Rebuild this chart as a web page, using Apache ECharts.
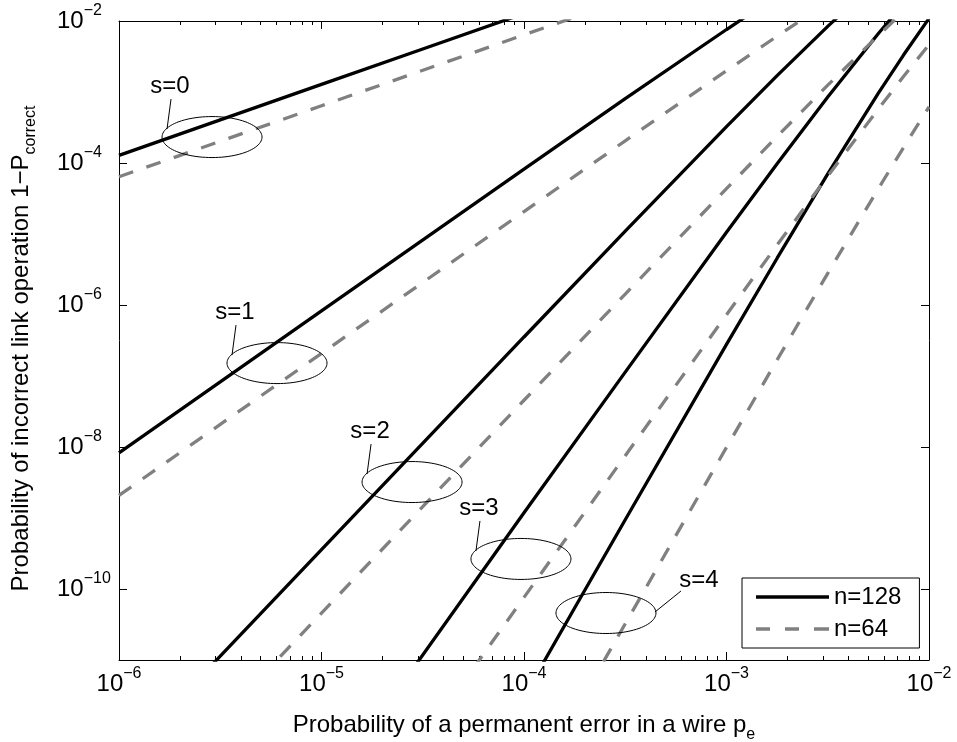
<!DOCTYPE html>
<html>
<head>
<meta charset="utf-8">
<script src="https://cdn.jsdelivr.net/npm/echarts@6/dist/echarts.min.js"></script>
<style>html,body{margin:0;padding:0;background:#fff}#c{width:957px;height:742px}</style>
</head>
<body>
<div id="c"></div>
<script>
// Curves: [p_e, 1 - P_correct]
const s0n128 = [[1e-6, 1.280e-4], [1e-5, 1.279e-3], [3.162e-5, 4.040e-3], [1e-4, 1.272e-2]];
const s1n128 = [[1e-6, 8.256e-9], [1e-5, 8.25e-7], [1e-4, 8.19e-5], [3.162e-4, 8.04e-4], [1e-3, 7.59e-3], [1.334e-3, 1.312e-2], [1.778e-3, 2.249e-2]];
const s2n128 = [[1.778e-6, 2.012e-12], [3.162e-6, 1.131e-11], [1e-5, 3.573e-10], [1e-4, 3.544e-7], [3.162e-4, 1.098e-5], [1e-3, 3.253e-4], [1.778e-3, 1.700e-3], [3.162e-3, 8.394e-3], [4.217e-3, 1.804e-2]];
const s3n128 = [[1.778e-5, 1.172e-12], [1e-4, 1.186e-9], [3.162e-4, 1.135e-7], [1e-3, 1.059e-5], [1.778e-3, 9.785e-5], [3.162e-3, 8.512e-4], [5.623e-3, 6.656e-3], [7.499e-3, 1.748e-2]];
const s4n128 = [[1e-4, 3.055e-12], [1.778e-4, 5.398e-11], [3.162e-4, 9.459e-10], [1e-3, 2.783e-7], [1.778e-3, 4.559e-6], [3.162e-3, 7.008e-5], [5.623e-3, 9.630e-4], [7.499e-3, 3.341e-3], [1e-2, 1.087e-2]];

const s0n64 = [[1e-6, 6.400e-5], [1e-5, 6.398e-4], [1e-4, 6.380e-3], [3.162e-4, 2.004e-2]];
const s1n64 = [[1e-6, 2.08e-9], [1e-5, 2.08e-7], [1e-4, 2.071e-5], [3.162e-4, 2.053e-4], [1e-3, 1.995e-3], [1.778e-3, 6.106e-3], [2.371e-3, 1.059e-2], [3.162e-3, 1.823e-2]];
const s2n64 = [[3.162e-6, 1.447e-12], [1e-5, 4.576e-11], [1e-4, 4.555e-8], [3.162e-4, 1.426e-6], [1e-3, 4.365e-5], [1.778e-3, 2.366e-4], [3.162e-3, 1.247e-3], [5.623e-3, 6.250e-3], [7.499e-3, 1.358e-2]];
const s3n64 = [[3.162e-5, 7.665e-13], [1e-4, 7.627e-11], [3.162e-4, 7.544e-9], [1e-3, 7.288e-7], [1.778e-3, 7.008e-6], [3.162e-3, 6.538e-5], [5.623e-3, 5.779e-4], [7.499e-3, 1.664e-3], [1e-2, 4.647e-3]];
const s4n64 = [[1.778e-4, 1.854e-12], [3.162e-4, 3.242e-11], [1e-3, 9.891e-9], [1.778e-3, 1.688e-7], [3.162e-3, 2.793e-6], [5.623e-3, 4.366e-5], [7.499e-3, 1.669e-4], [1e-2, 6.178e-4]];

const seriesNames = ['n=128', 'n=64'];
const yTickValues = [1e-10, 1e-8, 1e-6, 1e-4, 1e-2];

// annotations (ellipse centres in data units)
const annLabels = ['s=0', 's=1', 's=2', 's=3', 's=4'];
const annPe = [2.88e-6, 6.03e-6, 2.80e-5, 9.66e-5, 2.54e-4];
const annP = [2.32e-4, 1.52e-7, 3.21e-9, 2.65e-10, 4.59e-11];

const FONT = '"Liberation Sans", Arial, Helvetica, sans-serif';

const minorTicks = [];
for (let d = -6; d < -2; d++) for (let m = 2; m <= 9; m++) minorTicks.push(m * Math.pow(10, d));

function expLabel(v) {
  const e = Math.round(Math.log10(v));
  return '{b|10}{s|' + (e < 0 ? '\u2212' + (-e) : e) + '}';
}
const labelRich = {
  b: {fontSize: 24, lineHeight: 24, fontFamily: FONT, color: '#000'},
  s: {fontSize: 16, lineHeight: 16, padding: [0, 0, 20, 0], fontFamily: FONT, color: '#000'}
};
const lineAx = {show: true, lineStyle: {color: '#000', width: 1}};

const chart = echarts.init(document.getElementById('c'), null, {renderer: 'canvas'});

const LW = 3.3;
const black = [s0n128, s1n128, s2n128, s3n128, s4n128].map(d => ({
  type: 'line', name: seriesNames[0], data: d, symbol: 'none', showSymbol: false,
  lineStyle: {color: '#000', width: LW}, itemStyle: {color: '#000'}, z: 2, animation: false
}));
const gray = [s0n64, s1n64, s2n64, s3n64, s4n64].map(d => ({
  type: 'line', name: seriesNames[1], data: d, symbol: 'none', showSymbol: false,
  lineStyle: {color: '#808080', width: LW, type: [15, 14]}, itemStyle: {color: '#808080'}, z: 3, animation: false
}));

chart.setOption({
  animation: false,
  backgroundColor: '#fff',
  grid: {left: 119, right: 28, top: 21, bottom: 82, containLabel: false, outerBoundsMode: 'none'},
  xAxis: [
    {type: 'log', logBase: 10, min: 1e-6, max: 1e-2, position: 'bottom',
     axisLine: lineAx, splitLine: {show: false},
     axisTick: {show: true, inside: true, length: 8, lineStyle: {color: '#000'}},
     axisLabel: {formatter: expLabel, rich: labelRich, margin: 12, color: '#000'},
     name: 'Probability of a permanent error in a wire p{sub|e}', nameLocation: 'middle', nameGap: 42,
     nameTextStyle: {fontSize: 24, fontFamily: FONT, color: '#000',
       rich: {sub: {fontSize: 16, lineHeight: 16, padding: [20, 0, 0, 0], fontFamily: FONT, color: '#000'}}}},
    {type: 'log', logBase: 10, min: 1e-6, max: 1e-2, position: 'bottom',
     axisLine: {show: false}, splitLine: {show: false}, axisLabel: {show: false},
     axisTick: {show: true, inside: true, length: 4, customValues: minorTicks, lineStyle: {color: '#000'}}},
    {type: 'log', logBase: 10, min: 1e-6, max: 1e-2, position: 'top',
     axisLine: lineAx, splitLine: {show: false}, axisLabel: {show: false},
     axisTick: {show: true, inside: true, length: 8, lineStyle: {color: '#000'}}},
    {type: 'log', logBase: 10, min: 1e-6, max: 1e-2, position: 'top',
     axisLine: {show: false}, splitLine: {show: false}, axisLabel: {show: false},
     axisTick: {show: true, inside: true, length: 4, customValues: minorTicks, lineStyle: {color: '#000'}}}
  ],
  yAxis: [
    {type: 'log', logBase: 10, min: 1e-11, max: 1e-2, position: 'left',
     axisLine: lineAx, splitLine: {show: false},
     axisTick: {show: true, inside: true, length: 8, customValues: yTickValues, lineStyle: {color: '#000'}},
     axisLabel: {customValues: yTickValues, formatter: expLabel, rich: labelRich, margin: 62, align: 'left', color: '#000'},
     name: 'Probability of incorrect link operation 1\u2212P{sub|correct}', nameLocation: 'middle', nameGap: 86, nameRotate: 90,
     nameTextStyle: {fontSize: 24, fontFamily: FONT, color: '#000', padding: [0, 16, 0, 0],
       rich: {sub: {fontSize: 16, lineHeight: 16, padding: [20, 0, 0, 0], fontFamily: FONT, color: '#000'}}}},
    {type: 'log', logBase: 10, min: 1e-11, max: 1e-2, position: 'right',
     axisLine: lineAx, splitLine: {show: false}, axisLabel: {show: false},
     axisTick: {show: true, inside: true, length: 8, customValues: yTickValues, lineStyle: {color: '#000'}}}
  ],
  legend: {
    data: [
      {name: seriesNames[0], icon: 'path://M0,0h73v3.3h-73z'},
      {name: seriesNames[1], icon: 'path://M0,0h14v3.3h-14z M29,0h14v3.3h-14z M58,0h15v3.3h-15z'}
    ],
    orient: 'vertical', left: 742, top: 578,
    padding: [7, 18, 7, 14], itemGap: 8, itemWidth: 73, itemHeight: 3.3, itemTextGap: 5,
    borderColor: '#000', borderWidth: 1, backgroundColor: '#fff', selectedMode: false,
    textStyle: {fontSize: 24, fontFamily: FONT, color: '#000'}
  },
  series: black.concat(gray)
});

// annotations: ellipses, leader lines and labels
const els = [];
annLabels.forEach((lab, i) => {
  const c = chart.convertToPixel({xAxisIndex: 0, yAxisIndex: 0}, [annPe[i], annP[i]]);
  const rx = 50, ry = 20.5;
  const pts = [];
  for (let k = 0; k <= 96; k++) {
    const a = 2 * Math.PI * k / 96;
    pts.push([c[0] + rx * Math.cos(a), c[1] + ry * Math.sin(a)]);
  }
  els.push({type: 'polyline', shape: {points: pts}, style: {fill: null, stroke: '#000', lineWidth: 1}, z: 20, silent: true});
  let tx, ty, l1, l2;
  if (i < 4) { tx = -42; ty = -51; l1 = [-41, -38]; l2 = [-45, -8]; }
  else { tx = 93; ty = -33; l1 = [49, -1]; l2 = [75, -22]; }
  els.push({type: 'line', shape: {x1: c[0] + l1[0], y1: c[1] + l1[1], x2: c[0] + l2[0], y2: c[1] + l2[1]},
            style: {stroke: '#000', lineWidth: 1}, z: 20, silent: true});
  els.push({type: 'text', z: 21, silent: true,
            style: {text: lab, x: c[0] + tx, y: c[1] + ty, fill: '#000', font: '24px ' + FONT,
                    textAlign: 'center', textVerticalAlign: 'middle', align: 'center', verticalAlign: 'middle'}});
});
chart.setOption({graphic: {elements: els}});
</script>
</body>
</html>
